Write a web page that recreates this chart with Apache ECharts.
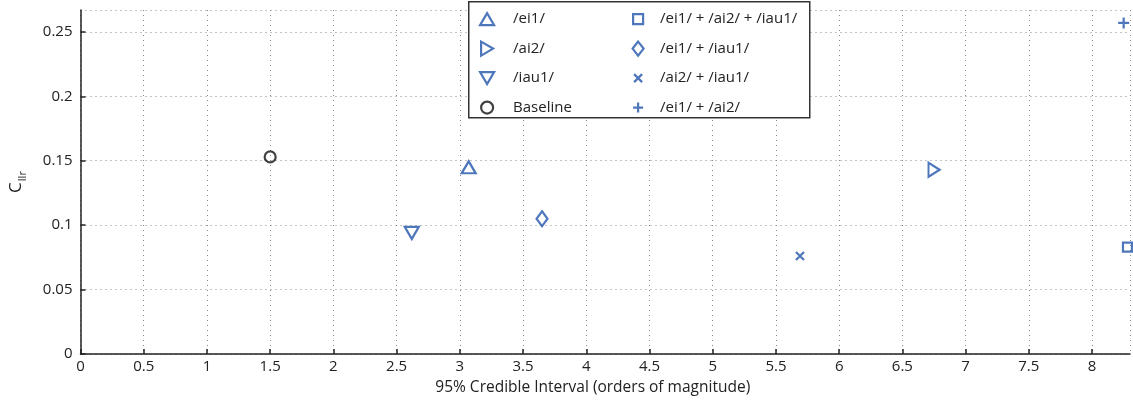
<!DOCTYPE html>
<html>
<head>
<meta charset="utf-8">
<script src="https://cdn.jsdelivr.net/npm/echarts@6/dist/echarts.min.js"></script>
<style>
html,body{margin:0;padding:0;background:#fff;}
#chart{width:1133px;height:403px;}
</style>
</head>
<body>
<div id="chart"></div>
<script>
// ---- data ----
var seriesNames = ['/ei1/', '/ai2/', '/iau1/', 'Baseline',
                   '/ei1/ + /ai2/ + /iau1/', '/ei1/ + /iau1/', '/ai2/ + /iau1/', '/ei1/ + /ai2/'];
var xValues = [3.07, 6.75, 2.62, 1.50, 8.28, 3.65, 5.69, 8.25];
var yValues = [0.145, 0.143, 0.094, 0.153, 0.083, 0.105, 0.076, 0.257];
var xTicks = [0, 0.5, 1, 1.5, 2, 2.5, 3, 3.5, 4, 4.5, 5, 5.5, 6, 6.5, 7, 7.5, 8];
var yTicks = [0, 0.05, 0.1, 0.15, 0.2, 0.25];

var BLUE = '#2255aa';
var FONT = 'Open Sans';
var symbols = [
  'path://M5 0L10 8.7L0 8.7Z',
  'path://M0 0L8.7 5L0 10Z',
  'path://M0 0L10 0L5 8.7Z',
  'circle',
  'rect',
  'path://M4 0L8 5L4 10L0 5Z',
  'path://M0 0L10 10M10 0L0 10',
  'path://M5 0L5 10M0 5L10 5'
];
// legend icons drawn in a 16x16 box (corners fixed by the two leading moves)
var BOX = 'M0 0M16 16';
var legendIcons = [
  'path://' + BOX + 'M1 14L8 2L15 14Z',
  'path://' + BOX + 'M2 1L14 8L2 15Z',
  'path://' + BOX + 'M1 2L15 2L8 14Z',
  'path://' + BOX + 'M14 8A6 6 0 1 1 2 8A6 6 0 1 1 14 8Z',
  'path://' + BOX + 'M3 3L13 3L13 13L3 13Z',
  'path://' + BOX + 'M8 1L13.5 8L8 15L2.5 8Z',
  'path://' + BOX + 'M4 4L12 12M12 4L4 12',
  'path://' + BOX + 'M8 3L8 13M3 8L13 8'
];
var sizes = [[14, 12], [11, 14], [14, 12], 11, 9, [11, 15], 8, 11];
var colors = [BLUE, BLUE, BLUE, '#111', BLUE, BLUE, BLUE, BLUE];

var series = seriesNames.map(function (n, i) {
  return {
    name: n,
    type: 'scatter',
    symbol: symbols[i],
    symbolSize: sizes[i],
    itemStyle: { color: 'rgba(0,0,0,0)', borderColor: colors[i], borderWidth: 2.2 },
    emphasis: { disabled: true },
    data: [[xValues[i], yValues[i]]],
    z: 5
  };
});

function legendData(from, to) {
  var out = [];
  for (var i = from; i < to; i++) {
    out.push({ name: seriesNames[i], icon: legendIcons[i],
      itemStyle: { color: 'rgba(0,0,0,0)', borderColor: colors[i], borderWidth: 2.2 } });
  }
  return out;
}

var chart = echarts.init(document.getElementById('chart'), null, { renderer: 'canvas' });
var legendBase = {
  orient: 'vertical',
  top: 10,
  padding: 0,
  itemWidth: 16,
  itemHeight: 16,
  itemGap: 11.3,
  symbolKeepAspect: true,
  selectedMode: false,
  z: 10
};
chart.setOption({
  backgroundColor: '#fff',
  animation: false,
  grid: { left: 80, right: 3, top: 10, bottom: 49, containLabel: false },
  xAxis: {
    type: 'value', min: 0, max: 8.3, interval: 0.5,
    name: '95% Credible Interval (orders of magnitude)',
    nameLocation: 'middle', nameGap: 26,
    nameTextStyle: { fontFamily: FONT, fontSize: 15.5, color: '#222', padding: [0, 25, 0, 0] },
    axisLine: { onZero: false, lineStyle: { color: '#222', width: 1.5 } },
    axisTick: { inside: true, length: 5, lineStyle: { color: '#222', width: 1.5 } },
    axisLabel: { fontFamily: FONT, fontSize: 15, color: '#222', margin: 5,
      showMaxLabel: false,
      formatter: function (v) { return xTicks.indexOf(+v.toFixed(2)) >= 0 ? String(+v.toFixed(2)) : ''; } },
    splitLine: { show: true, lineStyle: { color: '#888', type: [1, 4], width: 1 } }
  },
  yAxis: {
    type: 'value', min: 0, max: 0.267, interval: 0.05,
    name: '{a|C}{b|llr}',
    nameLocation: 'middle', nameGap: 52, nameRotate: 90,
    nameTextStyle: { fontFamily: FONT, color: '#222',
      rich: { a: { fontFamily: FONT, fontSize: 17, color: '#222' },
              b: { fontFamily: FONT, fontSize: 11, color: '#222', padding: [13, 0, 0, 1] } } },
    axisLine: { onZero: false, lineStyle: { color: '#222', width: 1.5 } },
    axisTick: { inside: true, length: 5, lineStyle: { color: '#222', width: 1.5 } },
    axisLabel: { fontFamily: FONT, fontSize: 15, color: '#222', margin: 8,
      showMaxLabel: false,
      formatter: function (v) { return yTicks.indexOf(+v.toFixed(3)) >= 0 ? String(+v.toFixed(3)) : ''; } },
    splitLine: { show: true, lineStyle: { color: '#888', type: [1, 4], width: 1 } }
  },
  legend: [
    Object.assign({}, legendBase, { left: 478, data: legendData(0, 4),
      textStyle: { fontFamily: FONT, fontSize: 15, color: '#222', padding: [0, 0, 0, 13] } }),
    Object.assign({}, legendBase, { left: 629, data: legendData(4, 8),
      textStyle: { fontFamily: FONT, fontSize: 15, color: '#222', padding: [0, 0, 0, 9] } })
  ],
  graphic: [{
    type: 'rect', left: 468, top: 1, z: 8,
    shape: { width: 341, height: 116 },
    style: { fill: '#fff', stroke: '#333', lineWidth: 1.5 }
  }],
  series: series
});
</script>
</body>
</html>
